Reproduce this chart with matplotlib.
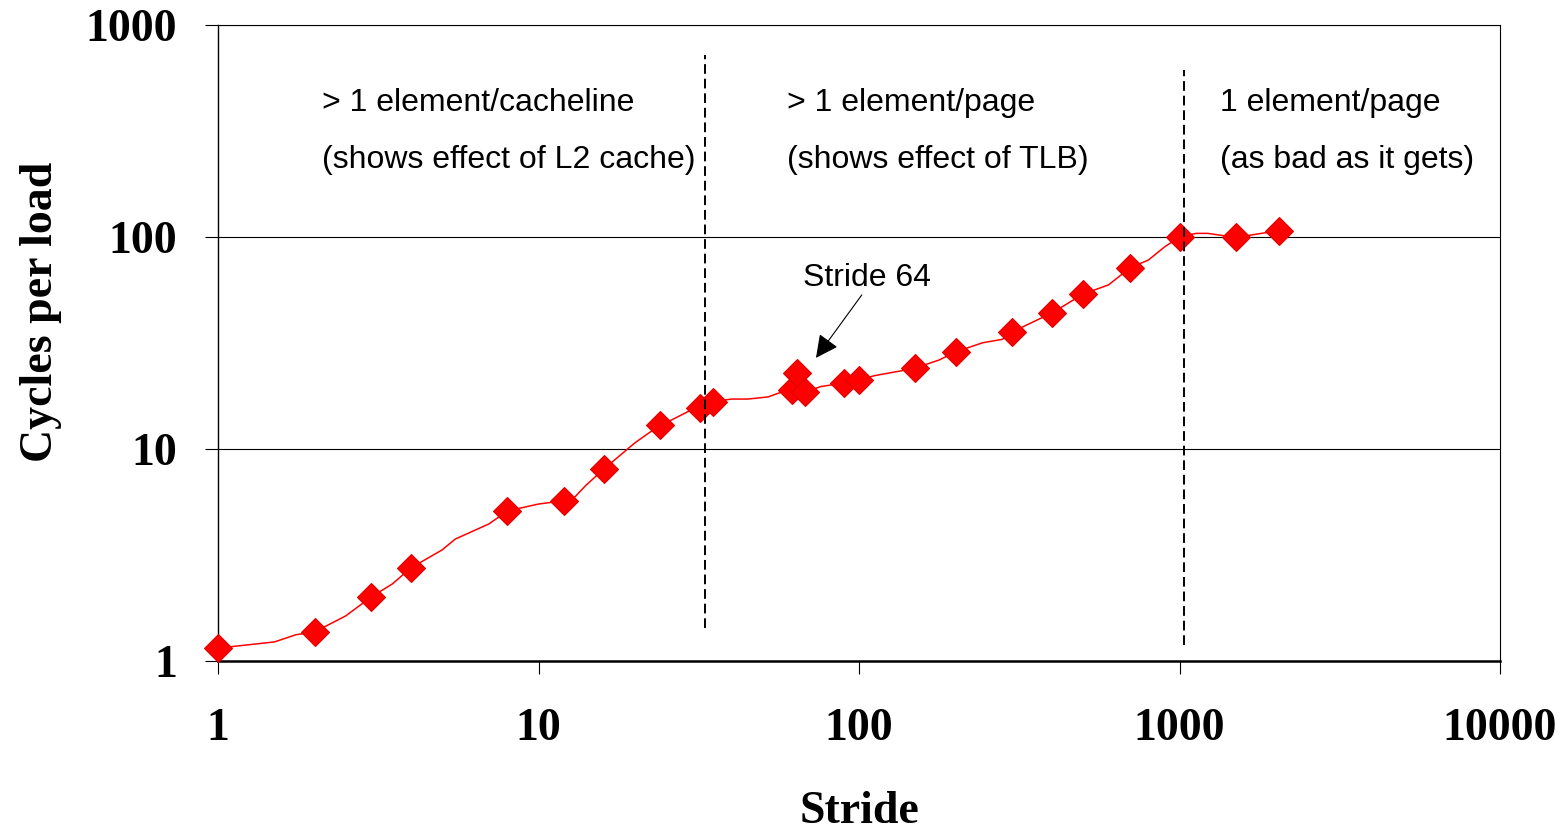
import matplotlib.pyplot as plt
import matplotlib.ticker as mticker

# Stride test: full measured curve (line) and highlighted points (markers)
line_stride = [1, 1.5, 1.75, 2, 2.5, 3, 3.5, 4, 5, 5.5, 7, 8, 10, 12, 13, 14,
               16, 20, 24, 26, 30, 32, 35, 40, 45, 52, 57, 62, 68, 76, 90, 100,
               112, 136, 150, 178, 200, 243, 280, 300, 351, 400, 500, 600, 700,
               800, 900, 1000, 1126, 1225, 1500, 1800, 2048]
line_cycles = [1.15, 1.23, 1.33, 1.37, 1.63, 2.0, 2.31, 2.75, 3.34, 3.76, 4.43,
               5.1, 5.5, 5.7, 5.95, 6.7, 8.05, 10.7, 13.0, 13.7, 15.3, 15.6,
               16.7, 17.2, 17.2, 17.6, 18.5, 19.0, 18.6, 19.7, 20.5, 21.2,
               22.2, 23.4, 24.1, 26.3, 28.7, 31.7, 32.9, 35.6, 39.9, 43.8,
               53.8, 59.4, 71.4, 77.9, 90.0, 100, 104, 104, 99.5, 104, 107]

mark_stride = [1, 2, 3, 4, 8, 12, 16, 24, 32, 35, 62, 64, 68, 90, 100, 150,
               200, 300, 400, 500, 700, 1000, 1500, 2048]
mark_cycles = [1.15, 1.37, 2.0, 2.75, 5.1, 5.7, 8.05, 13.0, 15.6, 16.7, 19.0,
               22.8, 18.6, 20.5, 21.2, 24.1, 28.7, 35.6, 43.8, 53.8, 71.4, 100,
               99.5, 107]

boundaries = [33, 1030]
region_text = [("> 1 element/cacheline", "(shows effect of L2 cache)"),
               ("> 1 element/page", "(shows effect of TLB)"),
               ("1 element/page", "(as bad as it gets)")]
region_left = [0.0811, 0.4438, 0.7816]

fig = plt.figure(figsize=(15.64, 8.33), dpi=100)
ax = fig.add_axes([0.1394, 0.2065, 0.8197, 0.7635])

ax.plot(line_stride, line_cycles, color="red", lw=1.1, zorder=3)
ax.plot(mark_stride, mark_cycles, ls="none", marker="D", ms=14.5,
        color="red", mec="#e00000", mew=0.8, zorder=4, clip_on=False)

ax.set_xscale("log")
ax.set_yscale("log")
ax.set_xlim(1, 10000)
ax.set_ylim(1, 1000)
ax.xaxis.set_major_locator(mticker.LogLocator(base=10, numticks=10))
ax.yaxis.set_major_locator(mticker.LogLocator(base=10, numticks=10))
ax.xaxis.set_minor_locator(mticker.NullLocator())
ax.yaxis.set_minor_locator(mticker.NullLocator())
ax.xaxis.set_major_formatter(mticker.FuncFormatter(lambda v, p: "%d" % v))
ax.yaxis.set_major_formatter(mticker.FuncFormatter(lambda v, p: "%d" % v))

ax.yaxis.grid(True, color="black", lw=0.8)
ax.set_axisbelow(True)

tick_font = {"family": "Liberation Serif", "weight": "bold", "size": 33}
ax.tick_params(axis="both", direction="out", length=9.5, width=0.8, color="black")
ax.tick_params(axis="y", pad=20)
ax.tick_params(axis="x", pad=24)
for lab in ax.get_xticklabels() + ax.get_yticklabels():
    lab.set_fontfamily("Liberation Serif")
    lab.set_fontweight("bold")
    lab.set_fontsize(33)

ax.set_xlabel("Stride", fontdict=tick_font, labelpad=30)
ax.set_ylabel("Cycles per load", fontdict=tick_font)
ax.yaxis.set_label_coords(-0.122, 0.549)

ax.spines["bottom"].set_linewidth(1.8)
ax.spines["left"].set_linewidth(1.0)
ax.spines["top"].set_linewidth(0.8)
ax.spines["right"].set_linewidth(0.8)

# region boundaries
ax.axvline(boundaries[0], ymin=0.052, ymax=0.953, color="black", lw=1.4,
           ls=(0, (5, 2.5)), zorder=5)
ax.axvline(boundaries[1], ymin=0.025, ymax=0.929, color="black", lw=1.4,
           ls=(0, (5, 2.5)), zorder=5)

for (l1, l2), xl in zip(region_text, region_left):
    ax.text(xl, 0.877, l1, transform=ax.transAxes, fontsize=23,
            family="Liberation Sans", va="center", ha="left")
    ax.text(xl, 0.787, l2, transform=ax.transAxes, fontsize=23,
            family="Liberation Sans", va="center", ha="left")

ax.annotate("", xy=(73.4, 26.9), xytext=(102, 53.3),
            arrowprops=dict(arrowstyle="-|>,head_length=1.4,head_width=0.7",
                            color="black", lw=0.8, shrinkA=0, shrinkB=0))
ax.text(0.4563, 0.602, "Stride 64", transform=ax.transAxes, fontsize=23,
        family="Liberation Sans", va="center", ha="left")

fig.savefig("out.png", dpi=100)
